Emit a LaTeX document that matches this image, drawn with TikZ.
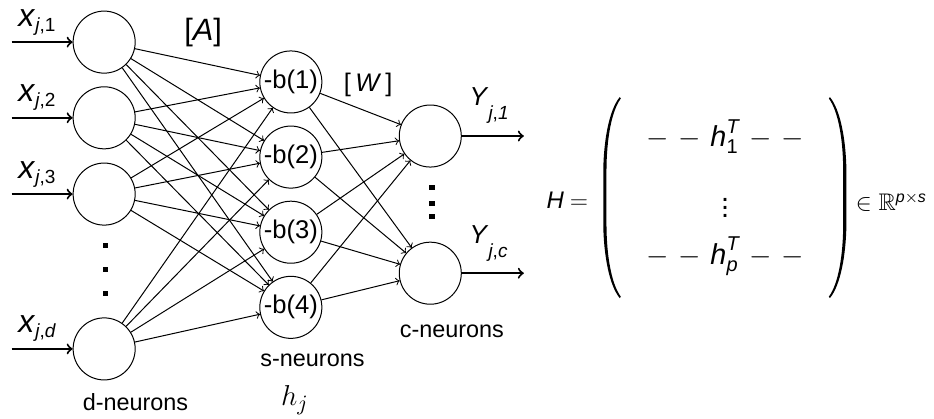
\documentclass[tikz,border=0pt]{standalone}
\usepackage{amsmath,amssymb}
\usepackage{fontspec}
\setmainfont{Liberation Sans}
\usetikzlibrary{positioning}

% italic letter with a small lowered index
\newcommand{\idx}[3]{\textit{#1}\raisebox{-#2}{\fontsize{9.5}{10}\selectfont #3}}
% one big round bracket, in pixel-sized units around its centre
\newcommand{\paren}{%
  \fill (8.5,-100.5) .. controls (-2,-88) and (-7.5,-58) .. (-8,-28) -- (-8,28)
    .. controls (-7.5,58) and (-2,88) .. (8.5,100.5) -- (9.5,99)
    .. controls (0,86) and (-4.6,58) .. (-4.8,28) -- (-4.8,-28)
    .. controls (-4.6,-58) and (0,-86) .. (9.5,-99) -- cycle;}

\tikzset{
  neuron/.style={circle, draw, line width=0.5pt, minimum size=1.09cm, inner sep=0pt,
    font=\fontsize{12.8}{14}\selectfont},
  link/.style={->, line width=0.5pt},
  io/.style={->, line width=1pt},
  dotmark/.style={rectangle, fill, minimum size=0.09cm, inner sep=0pt},
  caption/.style={font=\fontsize{11.7}{14}\selectfont},
  varlabel/.style={inner sep=0pt, anchor=base west},
  rowtext/.style={anchor=base, inner sep=0pt, font=\fontsize{14.4}{17}\selectfont},
  px/.style={x=0.017575cm, y=-0.017575cm},
}

\begin{document}
\begin{tikzpicture}
  \useasboundingbox (0,0) rectangle (16.41,-7.36);

  % input layer
  \foreach \n/\y in {1/-0.74, 2/-2.07, 3/-3.41, d/-6.13}
    \node[neuron] (d\n) at (1.83,\y) {};
  \foreach \y [count=\i] in {-4.31,-4.73,-5.15}
    \node[dotmark] (ddot\i) at (1.85,\y) {};

  % hidden layer
  \foreach \k/\y in {1/-1.44, 2/-2.76, 3/-4.08, 4/-5.40}
    \node[neuron] (s\k) at (5.11,\y) {-b(\k)};

  % output layer
  \node[neuron] (c1) at (7.56,-2.39) {};
  \node[neuron] (cc) at (7.56,-4.80) {};
  \foreach \y [count=\i] in {-3.30,-3.57,-3.81}
    \node[dotmark] (cdot\i) at (7.59,\y) {};

  % weights
  \foreach \n in {1,2,3,d}
    \foreach \k in {1,...,4}
      \draw[link] (d\n) -- (s\k);
  \foreach \k in {1,...,4}
    \foreach \m in {1,c}
      \draw[link] (s\k) -- (c\m);

  % inputs
  \foreach \n/\t in {1/1, 2/2, 3/3, d/\textit{d}} {
    \coordinate[left=1.07cm of d\n.west] (in\n);
    \draw[io] (in\n) -- (d\n);
    \node[above right=0.28cm and 0.11cm of in\n, varlabel, font=\fontsize{16}{18}\selectfont]
      (x\n) {\idx{x}{2.5pt}{\textit{j},\t}};
  }

  % outputs
  \foreach \m in {1,c} {
    \coordinate[right=1.09cm of c\m.east] (out\m);
    \draw[io] (c\m) -- (out\m);
    \node[above right=0.53cm and 0.13cm of c\m.east, varlabel, font=\fontsize{13}{15}\selectfont]
      (y\m) {\idx{Y}{7pt}{\textit{j},\textit{\m}}};
  }

  % weight matrices
  \node[font=\fontsize{15.4}{18}\selectfont] (A) at (3.57,-0.58) {[\textit{A}]};
  \node[font=\fontsize{12.7}{15}\selectfont] (W) at (6.47,-1.49) {[\,\textit{W}\,]};

  % layer captions
  \node[caption] (dcap) at (2.38,-7.06) {d-neurons};
  \node[caption] (scap) at (5.49,-6.33) {s-neurons};
  \node[caption] (ccap) at (7.94,-5.82) {c-neurons};
  \node[font=\fontsize{15}{17}\selectfont] (hj) at (5.18,-7.03) {$h_j$};

  % H built from the rows h_i^T
  \node[font=\fontsize{12}{14}\selectfont] (H) at (9.97,-3.52) {\textit{H}\hspace{3pt}$=$};
  \begin{scope}[px, shift={(611,197.5)}]
    \paren
  \end{scope}
  \begin{scope}[px, shift={(838,197.5)}, xscale=-1]
    \paren
  \end{scope}
  \node[rowtext] (row1) at (12.74,-2.57)
    {${-}\hspace{4.5pt}{-}\hspace{5pt}\textit{h}_{\text{1}}^{\textit{T}}\hspace{5pt}{-}\hspace{4.5pt}{-}$};
  \node[rowtext] (vd) at (12.74,-3.83) {$\vdots$};
  \node[rowtext] (rowp) at (12.74,-4.64)
    {${-}\hspace{4.5pt}{-}\hspace{5pt}\textit{h}_{\textit{p}}^{\textit{T}}\hspace{5pt}{-}\hspace{4.5pt}{-}$};
  \node[anchor=west, inner sep=0pt, font=\fontsize{12}{14}\selectfont] (inR) at (15.03,-3.55)
    {$\in\mathbb{R}^{\textit{p}\times\textit{s}}$};
\end{tikzpicture}
\end{document}
